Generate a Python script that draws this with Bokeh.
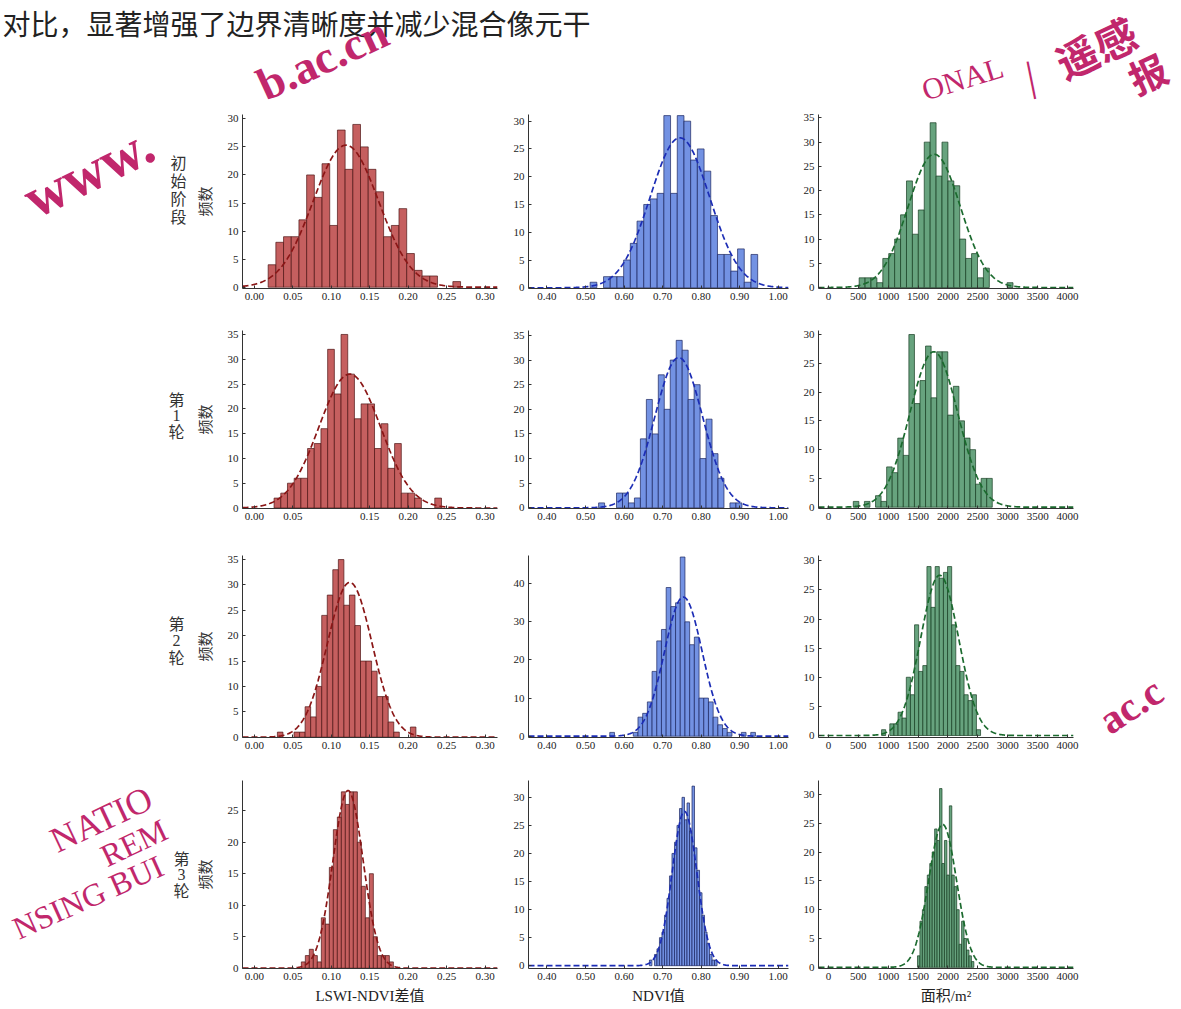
import numpy as np
from bokeh.plotting import figure
from bokeh.layouts import column, row
from bokeh.models import Label, FixedTicker, NumeralTickFormatter, Range1d
from bokeh.embed import file_html
from bokeh.resources import INLINE

# ---------------- data ----------------
stage_names = ["初始阶段", "第1轮", "第2轮", "第3轮"]
variable_titles = ["LSWI-NDVI差值", "NDVI值", "面积/m²"]
caption_text = "对比，显著增强了边界清晰度并减少混合像元干"

# LSWI-NDVI difference histograms
lswi_bin_start = [0.018, 0.0257, 0.030, 0.0611]
lswi_bin_width = [0.0100, 0.0087, 0.0072, 0.0052]
lswi_counts_init = [4, 8, 9, 9, 12, 20, 16, 22, 11, 28, 21, 29, 25, 21, 17, 9, 11, 14, 6, 3, 2, 2, 0, 0, 1]
lswi_counts_r1 = [2, 3, 5, 6, 6, 12, 13, 16, 32, 23, 35, 27, 18, 21, 21, 12, 17, 8, 13, 3, 3, 2, 0, 0, 2]
lswi_counts_r2 = [1, 0, 0, 1, 1, 6, 4, 10, 24, 28, 33, 35, 26, 28, 22, 15, 15, 13, 8, 8, 3, 1, 0, 0, 2]
lswi_counts_r3 = [1, 2, 3, 2, 1, 8, 7, 16, 22, 24, 28, 26, 28, 28, 20, 13, 8, 15, 5, 2, 2, 2, 1]
lswi_fit_mean = [0.119, 0.124, 0.124, 0.1218]
lswi_fit_sd = [0.0425, 0.040, 0.029, 0.0196]
lswi_fit_peak = [25.3, 27.0, 30.5, 28.2]

# NDVI histograms
ndvi_bin_start = [0.512, 0.534, 0.563, 0.666]
ndvi_bin_width = [0.0174, 0.0155, 0.0122, 0.0065]
ndvi_counts_init = [1, 0, 2, 2, 2, 5, 8, 12, 15, 16, 17, 31, 17, 31, 30, 23, 25, 21, 13, 6, 6, 3, 7, 1, 6]
ndvi_counts_r1 = [1, 0, 0, 3, 3, 1, 2, 14, 22, 15, 27, 20, 30, 34, 32, 22, 25, 10, 18, 11, 6, 0, 1, 1]
ndvi_counts_r2 = [1, 0, 0, 0, 0, 1, 5, 6, 9, 17, 25, 28, 39, 34, 35, 47, 30, 24, 26, 10, 10, 9, 5, 3, 2, 1, 0, 0, 1, 0, 1]
ndvi_counts_r3 = [1, 0, 2, 3, 5, 6, 9, 12, 16, 20, 22, 25, 28, 30, 26, 29, 24, 32, 21, 17, 13, 9, 6, 4, 2, 1, 1]
ndvi_fit_mean = [0.745, 0.742, 0.754, 0.757]
ndvi_fit_sd = [0.077, 0.062, 0.049, 0.032]
ndvi_fit_peak = [27.0, 30.5, 36.5, 27.5]

# Area histograms (m^2)
area_bin_start = [514, 416, 889, 1490]
area_bin_width = [99, 93, 69, 41]
area_counts_init = [2, 2, 2, 1, 6, 7, 10, 15, 22, 11, 16, 30, 34, 23, 30, 22, 21, 10, 6, 7, 2, 4, 0, 0, 0, 1]
area_counts_r1 = [1, 0, 1, 0, 2, 1, 7, 6, 12, 9, 30, 18, 22, 28, 19, 27, 27, 16, 21, 15, 12, 10, 4, 5, 5]
area_counts_r2 = [1, 0, 2, 2, 4, 3, 10, 7, 19, 11, 12, 29, 22, 29, 27, 28, 29, 19, 12, 11, 7, 6, 7, 1]
area_counts_r3 = [2, 8, 10, 14, 16, 18, 20, 24, 22, 31, 18, 22, 16, 28, 16, 14, 10, 4, 8, 5, 3, 2, 1]
area_fit_mean = [1770, 1763, 1861, 1910]
area_fit_sd = [437, 400, 318, 234]
area_fit_peak = [27.5, 27.0, 27.5, 24.8]

lswi_ticks = [0.00, 0.05, 0.10, 0.15, 0.20, 0.25, 0.30]
lswi_ticks_r1 = [0.00, 0.05, 0.15, 0.20, 0.25, 0.30]
ndvi_ticks = [0.40, 0.50, 0.60, 0.70, 0.80, 0.90, 1.00]
area_ticks = [0, 500, 1000, 1500, 2000, 2500, 3000, 3500, 4000]
count_ticks_5 = [0, 5, 10, 15, 20, 25, 30, 35]
count_ticks_10 = [0, 10, 20, 30, 40]

# ---------------- layout / style ----------------
PAGE_W = 1181
TOP_H = 110
LEFT_W = 190
RIGHT_STRIP_W = 99
COL_W = [320, 290, 381]
BORDER_L = [48, 17, 16]
BORDER_R = [13, 12, 108]
ROW_Y = [110, 312, 535, 760]
ROW_H = [202, 223, 225, 249]
BORDER_T = [4, 18, 20, 20]
BORDER_B = [24, 27, 23, 41]

X_RANGES = [(-0.01535, 0.316), (0.352, 1.027), (-166, 4100)]
Y_RANGES = [
    [(-0.23, 30.77), (-0.13, 31.2), (-0.2, 35.7)],
    [(-0.1, 35.8), (-0.14, 36.0), (-0.23, 30.7)],
    [(-0.06, 35.8), (-0.34, 47.4), (-0.34, 30.9)],
    [(-0.05, 29.8), (-0.5, 33.0), (-0.2, 32.4)],
]
FILL = ["#c25656", "#6b8ce2", "#5f9e77"]
EDGE = ["#4f1616", "#1c2660", "#173d22"]
CURVE = ["#8a1616", "#1c2db5", "#1b6a2e"]
NUM_FONT = "Liberation Serif"
CJK_FONT = "Noto Sans CJK SC"
MAGENTA = "#c1276c"

counts_table = [
    [lswi_counts_init, ndvi_counts_init, area_counts_init],
    [lswi_counts_r1, ndvi_counts_r1, area_counts_r1],
    [lswi_counts_r2, ndvi_counts_r2, area_counts_r2],
    [lswi_counts_r3, ndvi_counts_r3, area_counts_r3],
]
bin_starts = [lswi_bin_start, ndvi_bin_start, area_bin_start]
bin_widths = [lswi_bin_width, ndvi_bin_width, area_bin_width]
fit_means = [lswi_fit_mean, ndvi_fit_mean, area_fit_mean]
fit_sds = [lswi_fit_sd, ndvi_fit_sd, area_fit_sd]
fit_peaks = [lswi_fit_peak, ndvi_fit_peak, area_fit_peak]


def text_canvas(x0, y0, w, h):
    """A blank figure whose data coordinates equal page pixel coordinates."""
    p = figure(width=w, height=h, x_range=Range1d(x0, x0 + w), y_range=Range1d(y0 + h, y0),
               output_backend="svg", toolbar_location=None,
               x_axis_location=None, y_axis_location=None,
               min_border_left=0, min_border_right=0, min_border_top=0, min_border_bottom=0)
    p.grid.visible = False
    p.outline_line_color = None
    p.background_fill_color = "white"
    p.border_fill_color = "white"
    return p


def put(p, X, Y, text, **kw):
    p.add_layout(Label(x=X, y=Y, text=text, **kw))


def make_panel(r, c, width_override=None, border_r_override=None):
    xr = X_RANGES[c]
    yr = Y_RANGES[r][c]
    p = figure(width=width_override or COL_W[c], height=ROW_H[r],
               x_range=Range1d(*xr), y_range=Range1d(*yr),
               output_backend="svg", toolbar_location=None,
               min_border_left=BORDER_L[c],
               min_border_right=border_r_override if border_r_override is not None else BORDER_R[c],
               min_border_top=BORDER_T[r], min_border_bottom=BORDER_B[r])
    p.outline_line_color = None
    p.background_fill_color = "white"
    p.border_fill_color = "white"
    p.xgrid.visible = False
    p.ygrid.visible = False

    counts = np.array(counts_table[r][c], dtype=float)
    start = bin_starts[c][r]
    width = bin_widths[c][r]
    lefts = start + width * np.arange(len(counts))
    keep = counts > 0
    p.quad(left=lefts[keep], right=lefts[keep] + width, bottom=0, top=counts[keep],
           fill_color=FILL[c], fill_alpha=0.95, line_color=EDGE[c], line_width=0.7)

    xs = np.linspace(xr[0], xr[1], 500)
    ys = fit_peaks[c][r] * np.exp(-0.5 * ((xs - fit_means[c][r]) / fit_sds[c][r]) ** 2)
    p.line(xs, ys, line_color=CURVE[c], line_width=1.7, line_dash="6 3")

    if c == 0:
        xt = lswi_ticks_r1 if r == 1 else lswi_ticks
        fmt = "0.00"
    elif c == 1:
        xt = ndvi_ticks
        fmt = "0.00"
    else:
        xt = area_ticks
        fmt = "0"
    p.xaxis.ticker = FixedTicker(ticks=xt)
    p.xaxis.formatter = NumeralTickFormatter(format=fmt)
    p.yaxis.ticker = FixedTicker(ticks=count_ticks_10 if (r == 2 and c == 1) else count_ticks_5)

    for ax in (p.xaxis[0], p.yaxis[0]):
        ax.major_label_text_font = NUM_FONT
        ax.major_label_text_font_size = "11px"
        ax.major_label_text_color = "#222222"
        ax.axis_line_color = "#333333"
        ax.axis_line_width = 1
        ax.major_tick_line_color = "#333333"
        ax.major_tick_in = 3
        ax.major_tick_out = 0
        ax.minor_tick_line_color = None
        ax.major_label_standoff = 4

    if c == 0:
        p.yaxis.axis_label = "频数"
        p.yaxis.axis_label_text_font = CJK_FONT
        p.yaxis.axis_label_text_font_size = "15px"
        p.yaxis.axis_label_text_font_style = "normal"
        p.yaxis.axis_label_text_color = "#333333"
        p.yaxis.axis_label_standoff = 10
    if r == 3:
        p.xaxis.axis_label = variable_titles[c]
        p.xaxis.axis_label_text_font = NUM_FONT + ", " + CJK_FONT
        p.xaxis.axis_label_text_font_size = "15px"
        p.xaxis.axis_label_text_font_style = "normal"
        p.xaxis.axis_label_text_color = "#222222"
        p.xaxis.axis_label_standoff = 5
    return p


# ---------------- top strip: caption + watermarks ----------------
top = text_canvas(0, 0, PAGE_W, TOP_H)
put(top, 2, 22, caption_text, text_font=CJK_FONT, text_font_size="28px",
    text_color="#222222", text_align="left", text_baseline="middle")
wm_bold = dict(text_color=MAGENTA, text_font=NUM_FONT, text_font_style="bold",
               text_align="center", text_baseline="middle")
put(top, 322, 58, "b.ac.cn", text_font_size="46px", angle=0.43, **wm_bold)
put(top, 962, 78, "ONAL", text_font_size="30px", angle=0.3, text_color=MAGENTA,
    text_font=NUM_FONT, text_align="center", text_baseline="middle")
put(top, 1030, 76, "|", text_font_size="42px", angle=0.2, text_color=MAGENTA,
    text_font=NUM_FONT, text_align="center", text_baseline="middle")
put(top, 1095, 46, "遥感", text_font_size="42px", angle=0.43, text_color=MAGENTA,
    text_font=CJK_FONT, text_font_style="bold", text_align="center", text_baseline="middle")
put(top, 1147, 72, "报", text_font_size="38px", angle=0.43, text_color=MAGENTA,
    text_font=CJK_FONT, text_font_style="bold", text_align="center", text_baseline="middle")

# ---------------- left strips: stage labels + watermarks ----------------
row_label_x = [178, 176, 176, 181]
row_label_y = [[165, 186, 207, 228], [398, 418, 438], [619, 640, 660], [862, 884, 905]]
lefts = []
for r in range(4):
    lp = text_canvas(0, ROW_Y[r], LEFT_W, ROW_H[r])
    for ch, Y in zip(list(stage_names[r]), row_label_y[r]):
        put(lp, row_label_x[r], Y, ch,
            text_font=NUM_FONT if ch.isdigit() else CJK_FONT,
            text_font_size="16px", text_color="#333333",
            text_align="center", text_baseline="middle")
    lefts.append(lp)

wm_reg = dict(text_color=MAGENTA, text_font=NUM_FONT, text_font_style="normal",
              text_align="left", text_baseline="alphabetic")
put(lefts[0], 88, 176, "www.", text_font_size="58px", angle=0.46, **wm_bold)
put(lefts[3], 52, 842, "NATIO", text_font_size="36px", angle=0.44, **wm_reg)
put(lefts[3], 102, 862, "REM", text_font_size="32px", angle=0.44, **wm_reg)
put(lefts[3], 14, 958, "NSING BUI", text_font_size="32px", angle=0.42, **wm_reg)

# right strip of row 3 (watermark fragment)
right3 = text_canvas(PAGE_W - RIGHT_STRIP_W, ROW_Y[2], RIGHT_STRIP_W, ROW_H[2])
put(right3, 1102, 743, "ac.c", text_font_size="41px", angle=0.58,
    text_color=MAGENTA, text_font=NUM_FONT, text_font_style="bold",
    text_align="left", text_baseline="alphabetic")

# ---------------- charts ----------------
rows = []
for r in range(4):
    f1 = make_panel(r, 0)
    f2 = make_panel(r, 1)
    if r == 2:
        f3 = make_panel(r, 2, width_override=COL_W[2] - RIGHT_STRIP_W,
                        border_r_override=BORDER_R[2] - RIGHT_STRIP_W)
        rows.append(row(lefts[r], f1, f2, f3, right3))
    else:
        f3 = make_panel(r, 2)
        rows.append(row(lefts[r], f1, f2, f3))

page = column(top, *rows)

open("out.html", "w").write(file_html(page, INLINE))
